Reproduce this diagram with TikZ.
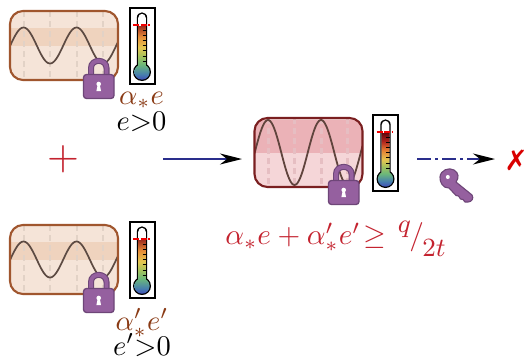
\documentclass[tikz,border=0pt]{standalone}
\usepackage{fontspec}
\usepackage{amsmath}
\usepackage{graphicx}
\newfontfamily\symfnt{DejaVu Sans}
\usetikzlibrary{arrows.meta}
\definecolor{lockfill}{HTML}{95609F}
\definecolor{lockedge}{HTML}{6E4678}
\definecolor{brownedge}{HTML}{A0562E}
\definecolor{brownfill}{HTML}{F5E4D8}
\definecolor{brownband}{HTML}{EFD3BE}
\definecolor{browndash}{HTML}{E2D2C6}
\definecolor{rededge}{HTML}{7A1F20}
\definecolor{redfill}{HTML}{F5D6D8}
\definecolor{redband}{HTML}{EBB2B7}
\definecolor{reddash}{HTML}{E6BEC2}
\definecolor{wavecol}{HTML}{5C4A42}
\definecolor{labelbrown}{HTML}{8A3A14}
\definecolor{mathred}{HTML}{C4232F}
\definecolor{arrowblue}{HTML}{2A2E8C}
\pgfdeclareverticalshading{thermoLow}{100bp}{rgb(0bp)=(0.25,0.30,0.72);rgb(25bp)=(0.25,0.30,0.72);rgb(30bp)=(0.28,0.50,0.68);rgb(39bp)=(0.42,0.72,0.48);rgb(47bp)=(0.65,0.76,0.36);rgb(55bp)=(0.90,0.78,0.32);rgb(65bp)=(0.90,0.55,0.22);rgb(75bp)=(0.62,0.18,0.12);rgb(100bp)=(0.62,0.18,0.12)}
\pgfdeclareverticalshading{thermoHigh}{100bp}{rgb(0bp)=(0.25,0.30,0.72);rgb(25bp)=(0.25,0.30,0.72);rgb(30bp)=(0.28,0.50,0.68);rgb(37bp)=(0.42,0.72,0.48);rgb(44bp)=(0.65,0.76,0.36);rgb(50bp)=(0.90,0.78,0.32);rgb(59bp)=(0.90,0.50,0.20);rgb(67bp)=(0.70,0.15,0.12);rgb(75bp)=(0.40,0.02,0.05);rgb(100bp)=(0.40,0.02,0.05)}
\tikzset{
 framebox/.style={draw=black,line width=2pt,fill=white,inner sep=0pt,minimum width=25pt,minimum height=76pt},
 wavebox/.style={rounded corners=13pt,inner sep=0pt,minimum width=108pt,minimum height=69pt,line width=2.1pt},
 wavedash/.style={line width=2.2pt,dash pattern=on 6pt off 4pt},
 lab/.style={inner sep=0pt,font=\fontsize{10}{12}\selectfont,scale=2.85},
 flow/.style={draw=arrowblue,line width=1.4pt,-{Stealth[black,length=22pt,width=11pt,inset=7pt]}},
}
% #1 x-shift, #2 y-shift, #3 amplitude, #4 fill, #5 band, #6 dash, #7 edge, #8 name
\newcommand{\wavepanel}[8]{
 \begin{scope}[shift={(#1,#2)}]
  \begin{scope}
   \clip[rounded corners=13pt] (10,11) rectangle (118,80);
   \fill[#4] (10,11) rectangle (118,80);
   \fill[#5] (10,{45.5-#3}) rectangle (118,45.5);
   \foreach \dx in {24,50,77,103}{\draw[wavedash,#6] (\dx,11) -- (\dx,80);}
   \draw[wavecol,line width=1.7pt] plot[domain=10:118,samples=90,smooth] (\x,{45.5-#3*cos((\x-23.5)*6.79)});
  \end{scope}
  \node[wavebox,draw=#7] (#8) at (64,45.5) {};
 \end{scope}
}
\newcommand{\lockpic}[2]{
 \begin{scope}[shift={(#1,#2)}]
  \draw[lockedge,line width=6pt] (91,76) -- (91,68) .. controls (91,58.5) and (106.5,58.5) .. (106.5,68) -- (106.5,76);
  \draw[lockfill,line width=3.8pt] (91,76) -- (91,68) .. controls (91,58.5) and (106.5,58.5) .. (106.5,68) -- (106.5,76);
  \draw[lockedge,fill=lockfill,line width=1.3pt,rounded corners=3pt] (83.5,74.5) rectangle (114,98.5);
  \fill[white] (98.7,84) circle (2.3pt);
  \fill[white] (97.8,84) -- (99.6,84) -- (101,91) -- (96.4,91) -- cycle;
 \end{scope}
}
% #1 x, #2 y shift, #3 shading, #4 name, #5 dash y
\newcommand{\thermo}[5]{
 \begin{scope}[shift={(#1,#2)}]
  \node[framebox] (#4) at (142,45.5) {};
  \fill[black] (136.8,68) -- (136.8,18) .. controls (136.8,10.5) and (147.2,10.5) .. (147.2,18) -- (147.2,68) -- cycle;
  \fill[black] (142,72) circle (9pt);
  \fill[white] (138.2,68) -- (138.2,18) .. controls (138.2,12.5) and (145.8,12.5) .. (145.8,18) -- (145.8,68) -- cycle;
  \path[shading=#3] (138.2,#5+1) rectangle (145.8,68) (142,72) circle (7.7pt);
  \foreach \ty in {30,35.2,40.4,45.6,50.8,56,61.2}{\draw[black,line width=1pt] (142.5,\ty) -- (146.5,\ty);}
  \draw[red!95!black,line width=1.4pt,dash pattern=on 6pt off 1.5pt] (133,#5) -- (149.5,#5);
 \end{scope}
}
\begin{document}
\begin{tikzpicture}[x=1pt,y=-1pt]
\useasboundingbox (0,0) rectangle (527,359);
\fill[white] (0,0) rectangle (527,359);
\wavepanel{0}{0}{18}{brownfill}{brownband}{browndash}{brownedge}{boxA}
\wavepanel{0}{214}{18}{brownfill}{brownband}{browndash}{brownedge}{boxB}
\begin{scope}[shift={(244.5,107)}]
 \begin{scope}
  \clip[rounded corners=13pt] (10,11) rectangle (118,80);
  \fill[redfill] (10,11) rectangle (118,80);
  \fill[redband] (10,13) rectangle (118,46);
  \foreach \dx in {24,50,77,103}{\draw[wavedash,reddash] (\dx,11) -- (\dx,80);}
  \draw[wavecol!85!rededge,line width=1.8pt] plot[domain=10:118,samples=90,smooth] (\x,{45.5-32.5*cos((\x-23.5)*6.79)});
 \end{scope}
 \node[wavebox,draw=rededge] (boxC) at (64,45.5) {};
\end{scope}
\lockpic{0}{0}
\lockpic{0}{214}
\lockpic{245}{106}
\thermo{0}{0}{thermoLow}{thA}{25}
\thermo{0}{214}{thermoLow}{thB}{25}
\thermo{243.5}{107}{thermoHigh}{thC}{25}
\node[lab,text=labelbrown] (la) at (141.5,100) {$\alpha_*e$};
\node[lab] (ea) at (141.5,121.5) {$e{>}0$};
\node[lab,text=labelbrown] (lb) at (142,323) {$\alpha'_*e'$};
\node[lab] (eb) at (142,345) {$e'{>}0$};
\node[inner sep=0pt,text=mathred,font=\fontsize{10}{12}\selectfont,scale=4.1] (plus) at (63,159) {$+$};
\node[inner sep=0pt,text=mathred,font=\fontsize{10}{12}\selectfont,scale=2.92] (sum) at (335.5,239) {$\alpha_*e+\alpha'_*e'\mathrel{\mkern-3mu\geq\mkern2mu}\raisebox{4pt}{\fontsize{8.8}{10}\selectfont$q$}\mkern-1mu/\mkern-1mu\raisebox{-4pt}{\fontsize{8.8}{10}\selectfont$2t$}$};
\coordinate (a1) at (163,159);
\coordinate (a2) at (242,159);
\coordinate (a3) at (417,159);
\coordinate (a4) at (495,159);
\draw[flow] (a1) -- (a2);
\draw[flow,dash pattern=on 14pt off 4pt on 3pt off 4pt] (a3) -- (a4);
% key
\draw[lockedge,fill=lockfill,line width=1.1pt,line join=round]
  (456,182) -- (472,195) .. controls (474,198) and (472,202) .. (468,202) -- (465,202) -- (463,199.5) -- (460.5,199) -- (458.5,196) -- (456,195.5) -- (449,188) .. controls (443,188.5) and (439.5,182) .. (440,177) .. controls (440.5,170) and (449,167) .. (454,170) .. controls (459,173) and (459,178) .. (456,182) -- cycle;
\fill[white] (447.8,177) circle (2pt);
\node[inner sep=0pt,text=red!85!black,font=\symfnt\fontsize{28}{28}\selectfont] (no) at (516,160) {✗};
\end{tikzpicture}
\end{document}
